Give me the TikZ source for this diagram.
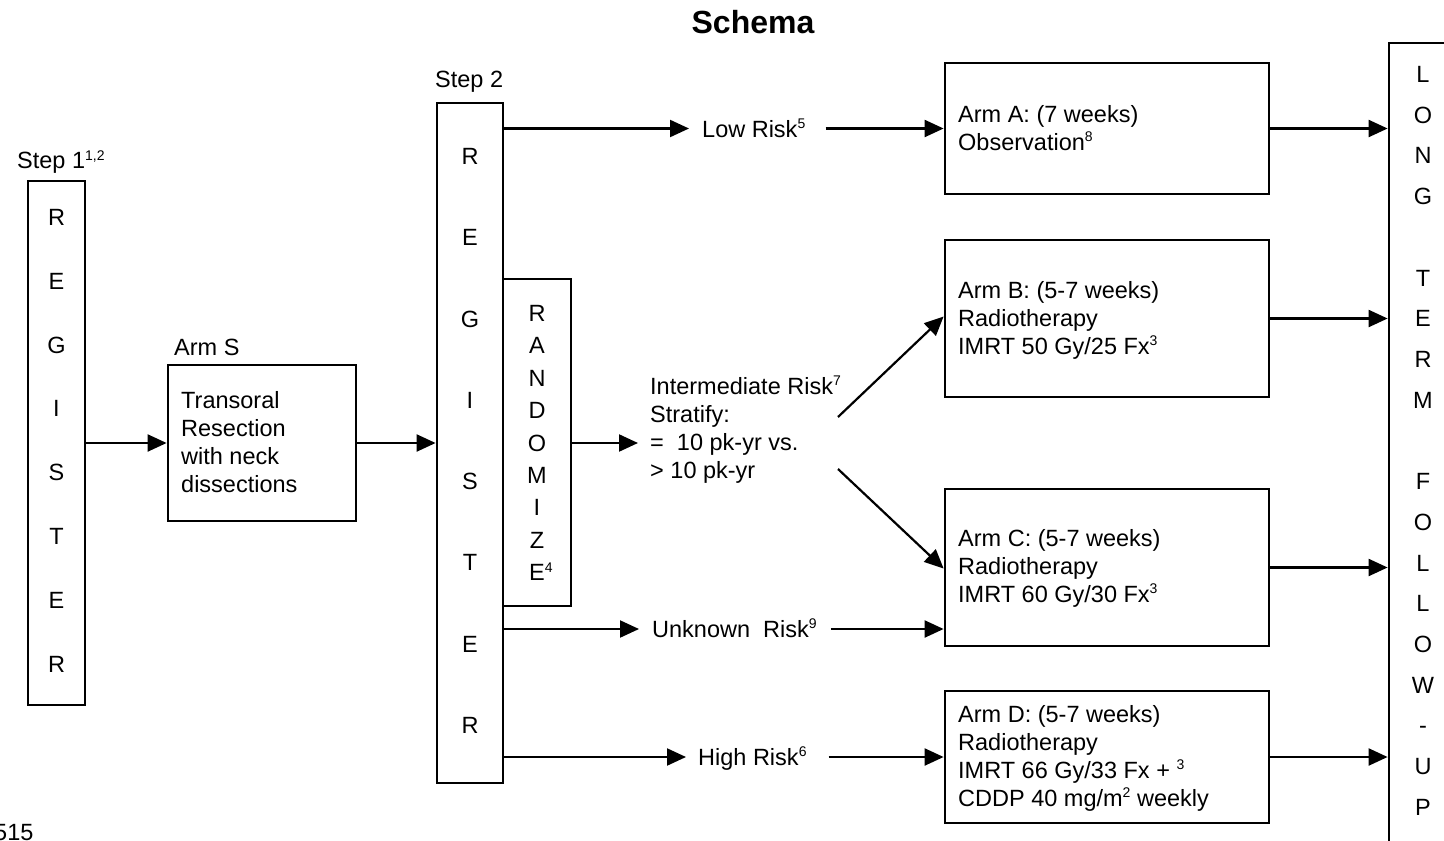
\documentclass[tikz,border=0pt]{standalone}
\usepackage{fontspec}
\setmainfont{Liberation Sans}
\usetikzlibrary{arrows.meta}
\newcommand{\sups}[1]{\raisebox{8.5pt}{\fontsize{14}{14}\selectfont #1}}
\begin{document}
\begin{tikzpicture}[x=1pt,y=-1pt,
  box/.style={draw,line width=2.8pt,inner sep=0pt},
  txt/.style={font=\fontsize{23.5}{28}\selectfont,inner sep=0pt,anchor=base west,align=left},
  letter/.style={font=\fontsize{23.5}{28}\selectfont,inner sep=0pt,anchor=base},
  arr/.style={line width=2.2pt,-{Triangle[length=19pt,width=17pt]}},
  ln/.style={line width=2pt}]
\useasboundingbox (0,0) rectangle (1444,841);
\clip (0,0) rectangle (1444,841);

% title
\node[inner sep=0pt,anchor=base,font=\fontsize{32}{36}\selectfont\bfseries] (title) at (753,33.5) {Schema};

% step 1
\node[txt] (step1) at (17,168.5) {Step 1\sups{1,2}};
\node[box,minimum width=57pt,minimum height=524pt] (reg1) at (56.5,443) {};
\foreach \l [count=\i] in {R,E,G,I,S,T,E,R}
  \node[letter] (rega\i) at (56.5,{225.4+63.86*(\i-1)}) {\l};

% arm S
\node[txt] (armSlbl) at (174,355.5) {Arm S};
\node[box,minimum width=188pt,minimum height=156pt] (armS) at (262,443) {};
\node[txt] (armStxt) at (181,492.5) {Transoral\\Resection\\with neck\\dissections};

% step 2
\node[txt] (step2) at (435,87.5) {Step 2};
\node[box,minimum width=66pt,minimum height=680pt] (reg2) at (470,443) {};
\foreach \l [count=\i] in {R,E,G,I,S,T,E,R}
  \node[letter] (regb\i) at (470,{164.4+81.3*(\i-1)}) {\l};

% randomize
\node[box,minimum width=68pt,minimum height=327pt] (rand) at (537,442.5) {};
\foreach \l [count=\i] in {R,A,N,D,O,M,I,Z}
  \node[letter] (rnd\i) at (537,{321.4+32.4*(\i-1)}) {\l};
\node[txt] (rnd9) at (529,580.6) {E\sups{4}};

% intermediate
\node[txt] (inter) at (650,478.4) {Intermediate Risk\sups{7}\\Stratify:\\=\ \ 10 pk-yr vs.\\> 10 pk-yr};
\coordinate (interin) at (638,443);
\coordinate (interB) at (838,417);
\coordinate (interC) at (838,469);

% risk labels
\node[txt] (low) at (702,137.4) {Low Risk\sups{5}};
\node[txt] (unk) at (652,637.4) {Unknown\ \ Risk\sups{9}};
\node[txt] (high) at (698,765.4) {High Risk\sups{6}};

% arms
\node[box,minimum width=324pt,minimum height=131pt] (armA) at (1107,128.5) {};
\node[txt] (armAtxt) at (958,150.4) {Arm A: (7 weeks)\\Observation\sups{8}};
\node[box,minimum width=324pt,minimum height=157pt] (armB) at (1107,318.5) {};
\node[txt] (armBtxt) at (958,354.4) {Arm B: (5-7 weeks)\\Radiotherapy\\IMRT 50 Gy/25 Fx\sups{3}};
\node[box,minimum width=324pt,minimum height=157pt] (armC) at (1107,567.5) {};
\node[txt] (armCtxt) at (958,602.4) {Arm C: (5-7 weeks)\\Radiotherapy\\IMRT 60 Gy/30 Fx\sups{3}};
\node[box,minimum width=324pt,minimum height=132pt] (armD) at (1107,757) {};
\node[txt] (armDtxt) at (958,806.4) {Arm D: (5-7 weeks)\\Radiotherapy\\IMRT 66 Gy/33 Fx + \sups{3}\\CDDP 40 mg/m\sups{2} weekly};

% long term follow-up
\node[box,minimum width=81pt,minimum height=827pt] (ltfu) at (1429.5,456.5) {};
\foreach \l [count=\i] in {L,O,N,G,{},T,E,R,M,{},F,O,L,L,O,W,-,U,P}
  \node[letter] (lt\i) at (1423,{82.4+40.72*(\i-1)}) {\l};

% page number
\node[txt] (page) at (-6,840.5) {515};

% connectors
\draw[arr] (reg1.east |- armS.west) -- (armS.west);
\draw[arr] (armS.east) -- (reg2.west |- armS.east);
\draw[arr] (rand.east |- interin) -- (interin);
\draw[arr] (interB) -- ([yshift=2pt]armB.west);
\draw[arr] (interC) -- ([yshift=-1pt]armC.west);

\draw[arr] (reg2.east |- armA.west) -- ([xshift=-13pt]low.west |- armA.west);
\draw[arr] ([xshift=20pt]low.east |- armA.west) -- (armA.west);

\draw[arr] (reg2.east |- 0,629) coordinate (unks) -- ([xshift=-13pt]unk.west |- unks);
\draw[arr] ([xshift=14pt]unk.east |- unks) -- (armC.west |- unks);

\draw[arr] (reg2.east |- armD.west) -- ([xshift=-12pt]high.west |- armD.west);
\draw[arr] ([xshift=22pt]high.east |- armD.west) -- (armD.west);

\draw[arr] (armA.east) -- (ltfu.west |- armA.east);
\draw[arr] (armB.east) -- (ltfu.west |- armB.east);
\draw[arr] (armC.east) -- (ltfu.west |- armC.east);
\draw[arr] (armD.east) -- (ltfu.west |- armD.east);
\end{tikzpicture}
\end{document}
